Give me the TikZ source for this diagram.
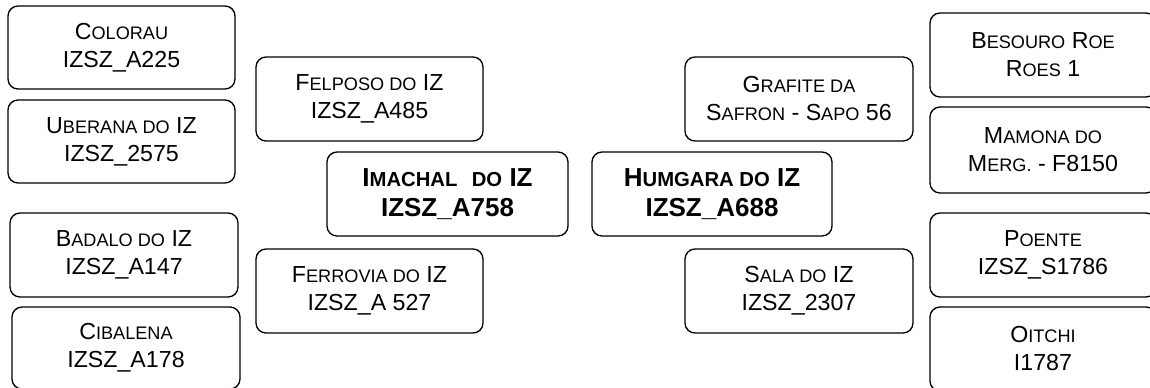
\documentclass[tikz,border=0pt]{standalone}
\usepackage{fontspec}
\setmainfont{Liberation Sans}
\newcommand{\smc}[1]{{\fontsize{13.6}{21}\selectfont #1}}
\newcommand{\smcb}[1]{{\fontsize{15.2}{22.5}\selectfont #1}}
\begin{document}
\begin{tikzpicture}[x=0.75pt,y=-0.75pt,
  box/.style 2 args={draw, line width=1pt, rounded corners=7.5pt, inner sep=0pt,
    minimum width=#1*0.75pt, minimum height=#2*0.75pt, align=center,
    font=\fontsize{17.4}{21}\selectfont},
  boldbox/.style 2 args={box={#1}{#2}, font=\fontsize{19.5}{22.5}\selectfont\bfseries}]
\useasboundingbox (0,0) rectangle (1150,387);
\clip (0,0) rectangle (1150,387);
\node[box={227}{83}] (colorau) at (121.5,47.5) {C\smc{OLORAU}\\IZSZ\_A225};
\node[box={227}{83}] (uberana) at (121.5,141.5) {U\smc{BERANA DO} IZ\\IZSZ\_2575};
\node[box={228}{84}] (badalo) at (124,255) {B\smc{ADALO DO} IZ\\IZSZ\_A147};
\node[box={228}{82}] (cibalena) at (126,348) {C\smc{IBALENA}\\IZSZ\_A178};
\node[box={227}{84}] (felposo) at (369.5,99) {F\smc{ELPOSO DO} IZ\\IZSZ\_A485};
\node[boldbox={241}{84}] (imachal) at (447.5,194) {I\smcb{MACHAL}\ \ \smcb{DO} IZ\\IZSZ\_A758};
\node[box={227}{84}] (ferrovia) at (369.5,291) {F\smc{ERROVIA DO} IZ\\IZSZ\_A 527};
\node[boldbox={240}{84}] (humgara) at (712,194) {H\smcb{UMGARA DO} IZ\\IZSZ\_A688};
\node[box={228}{84}] (grafite) at (799,99) {G\smc{RAFITE DA}\\S\smc{AFRON} - S\smc{APO} 56};
\node[box={228}{84}] (sala) at (799,291) {S\smc{ALA DO} IZ\\IZSZ\_2307};
\node[box={226}{84}] (besouro) at (1043,55) {B\smc{ESOURO} R\smc{OE}\\R\smc{OES} 1};
\node[box={226}{86}] (mamona) at (1043,150) {M\smc{AMONA DO}\\M\smc{ERG.} - F8150};
\node[box={226}{84}] (poente) at (1043,255) {P\smc{OENTE}\\IZSZ\_S1786};
\node[box={226}{84}] (oitchi) at (1043,349) {O\smc{ITCHI}\\I1787};
\end{tikzpicture}
\end{document}
